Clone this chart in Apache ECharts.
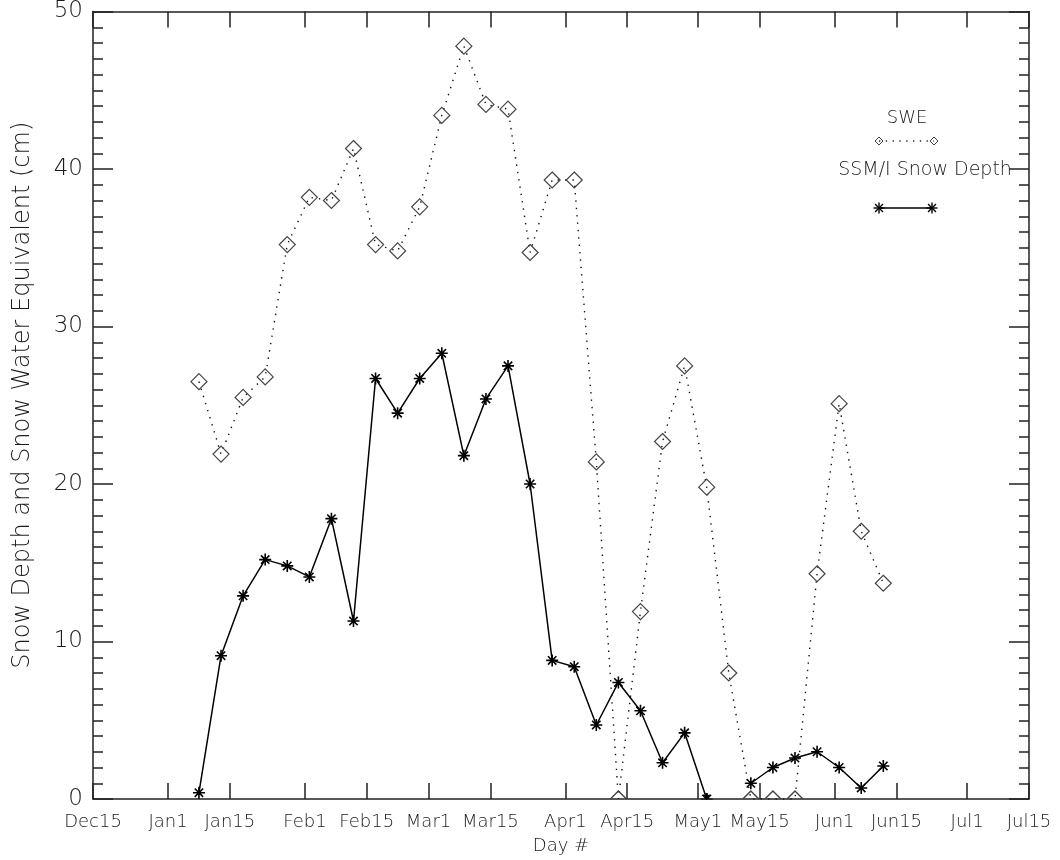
<!DOCTYPE html>
<html><head><meta charset="utf-8">
<script src="https://cdn.jsdelivr.net/npm/echarts@6/dist/echarts.min.js"></script>
<style>html,body{margin:0;padding:0;background:#fff;} #chart{width:1060px;height:860px;}</style>
</head><body><div id="chart"></div>
<script>
// ---- data ----
const tickDays = [0,17,31,48,62,76,90,107,121,137,151,168,182,198,212];
const tickLabels = ['Dec15','Jan1','Jan15','Feb1','Feb15','Mar1','Mar15','Apr1','Apr15','May1','May15','Jun1','Jun15','Jul1','Jul15'];
const obsDays = [24,29,34,39,44,49,54,59,64,69,74,79,84,89,94,99,104,109,114,119,124,129,134,139,144,149,154,159,164,169,174,179];
const sweValues = [26.5,21.9,25.5,26.8,35.2,38.2,38.0,41.3,35.2,34.8,37.6,43.4,47.8,44.1,43.8,34.7,39.3,39.3,21.4,0,11.9,22.7,27.5,19.8,8.0,0,0,0,14.3,25.1,17.0,13.7];
const depthValues = [0.4,9.1,12.9,15.2,14.8,14.1,17.8,11.3,26.7,24.5,26.7,28.3,21.8,25.4,27.5,20.0,8.8,8.4,4.7,7.4,5.6,2.3,4.2,0,null,1.0,2.0,2.6,3.0,2.0,0.7,2.1];
const yTitle = 'Snow Depth and Snow Water Equivalent (cm)';
const xTitle = 'Day #';
const legendNames = ['SWE','SSM/I Snow Depth'];

// ---- styling helpers ----
const FONT = '"DejaVu Sans ExtraLight", "DejaVu Sans Light", "DejaVu Sans", sans-serif';
const TXT = '#1a1a1a';
const AX = '#222';
const ASTER = 'path://M0,5L10,5M5,0L5,10M1.5,1.5L8.5,8.5M1.5,8.5L8.5,1.5';
const ASTER_HALF = 'path://M0,5L10,5M5,0L5,5M1.5,1.5L5,5L8.5,1.5';
const DIAM_HALF = 'path://M0,10L10,0L20,10';

const sweData = obsDays.map((d, i) => {
  const v = sweValues[i];
  if (v === 0) return {value:[d, v], symbol: DIAM_HALF, symbolSize:[16,8], symbolOffset:[0,-4]};
  return {value:[d, v]};
});
const depthData = obsDays.map((d, i) => {
  const v = depthValues[i];
  if (v === 0) return {value:[d, v], symbol: ASTER_HALF, symbolSize:[12,6], symbolOffset:[0,-3]};
  return {value:[d, v]};
});

function asterisk(cx, cy, r) {
  const k = r * 0.72;
  const ls = {stroke:'#000', lineWidth:1.4};
  return {type:'group', children:[
    {type:'line', shape:{x1:cx-r,y1:cy,x2:cx+r,y2:cy}, style:ls},
    {type:'line', shape:{x1:cx,y1:cy-r,x2:cx,y2:cy+r}, style:ls},
    {type:'line', shape:{x1:cx-k,y1:cy-k,x2:cx+k,y2:cy+k}, style:ls},
    {type:'line', shape:{x1:cx-k,y1:cy+k,x2:cx+k,y2:cy-k}, style:ls}
  ]};
}
function diamond(cx, cy, r) {
  return {type:'polygon', shape:{points:[[cx,cy-r],[cx+r,cy],[cx,cy+r],[cx-r,cy]]},
    style:{fill:'rgba(0,0,0,0)', stroke:'#444', lineWidth:1}};
}

const axisLineStyle = {color: AX, width: 1.5};
const xCommon = {
  type:'value', min:0, max:212,
  axisLine:{show:true, onZero:false, lineStyle:axisLineStyle},
  axisTick:{show:true, inside:true, length:16, customValues:tickDays, lineStyle:axisLineStyle},
  splitLine:{show:false}
};
const yCommon = {
  type:'value', min:0, max:50, interval:10,
  axisLine:{show:true, onZero:false, lineStyle:axisLineStyle},
  axisTick:{show:true, inside:true, length:20, lineStyle:axisLineStyle},
  minorTick:{show:true, splitNumber:10, length:10, lineStyle:{color:AX, width:1.5}},
  splitLine:{show:false}, minorSplitLine:{show:false}
};

const chart = echarts.init(document.getElementById('chart'), null, {renderer:'canvas'});
chart.setOption({
  animation:false,
  backgroundColor:'#fff',
  textStyle:{fontFamily:FONT, color:TXT},
  grid:{left:93, right:31, top:8, bottom:60, containLabel:false},
  xAxis:[
    Object.assign({}, xCommon, {
      position:'bottom',
      name:xTitle, nameLocation:'middle', nameGap:38,
      nameTextStyle:{fontSize:18, color:TXT, fontFamily:FONT},
      axisLabel:{show:true, customValues:tickDays, margin:14, fontSize:18, color:TXT, fontFamily:FONT,
        formatter:(v)=>{const i = tickDays.indexOf(Math.round(v)); return i>=0 ? tickLabels[i] : '';}}
    }),
    Object.assign({}, xCommon, {position:'top', axisLabel:{show:false}})
  ],
  yAxis:[
    Object.assign({}, yCommon, {
      position:'left',
      name:yTitle, nameLocation:'middle', nameGap:58, nameRotate:90,
      nameTextStyle:{fontSize:24, color:TXT, fontFamily:FONT, padding:[0,0,0,20]},
      axisLabel:{show:true, margin:10, fontSize:23, color:TXT, fontFamily:FONT}
    }),
    Object.assign({}, yCommon, {position:'right', axisLabel:{show:false}})
  ],
  series:[
    {
      name:legendNames[0], type:'line', xAxisIndex:0, yAxisIndex:0,
      data:sweData, symbol:'diamond', symbolSize:16, showSymbol:true,
      lineStyle:{color:'#111', width:1.4, type:[1.4,6]},
      itemStyle:{color:'rgba(0,0,0,0)', borderColor:'#444', borderWidth:1.2},
      emphasis:{disabled:true}, z:2
    },
    {
      name:legendNames[1], type:'line', xAxisIndex:0, yAxisIndex:0,
      data:depthData, symbol:ASTER, symbolSize:12, showSymbol:true, connectNulls:false,
      lineStyle:{color:'#000', width:1.5},
      itemStyle:{color:'#000', borderColor:'#000', borderWidth:1.6},
      emphasis:{disabled:true}, z:3
    }
  ],
  graphic:[
    {type:'text', x:907, y:118, style:{text:legendNames[0], font:'18px '+FONT, fill:TXT, align:'center', verticalAlign:'middle'}},
    {type:'line', shape:{x1:879,y1:141,x2:934,y2:141}, style:{stroke:'#222', lineWidth:1.3, lineDash:[1.3,5.5]}},
    diamond(879,141,4), diamond(934,141,4),
    {type:'text', x:925, y:170, style:{text:legendNames[1], font:'19px '+FONT, fill:TXT, align:'center', verticalAlign:'middle'}},
    {type:'line', shape:{x1:879,y1:208,x2:932,y2:208}, style:{stroke:'#000', lineWidth:1.5}},
    asterisk(879,208,5.5), asterisk(932,208,5.5)
  ]
});
</script>
</body></html>
